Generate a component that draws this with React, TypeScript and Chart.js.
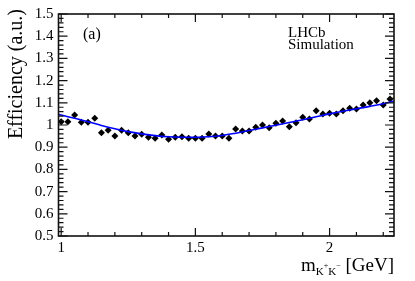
import { useEffect, useRef } from "react";
import { Chart, registerables } from "chart.js";

Chart.register(...registerables);

// bin centres of m(K+K-) in GeV
const MASS = [
  1.0, 1.025, 1.05, 1.075, 1.1, 1.125, 1.15, 1.175, 1.2, 1.225,
  1.25, 1.275, 1.3, 1.325, 1.35, 1.375, 1.4, 1.425, 1.45, 1.475,
  1.5, 1.525, 1.55, 1.575, 1.6, 1.625, 1.65, 1.675, 1.7, 1.725,
  1.75, 1.775, 1.8, 1.825, 1.85, 1.875, 1.9, 1.925, 1.95, 1.975,
  2.0, 2.025, 2.05, 2.075, 2.1, 2.125, 2.15, 2.175, 2.2, 2.225,
];

// simulated efficiency (a.u.)
const EFFICIENCY = [
  1.015, 1.015, 1.045, 1.012, 1.012, 1.03, 0.965, 0.976, 0.95, 0.976,
  0.965, 0.95, 0.958, 0.945, 0.94, 0.955, 0.936, 0.945, 0.947, 0.94,
  0.94, 0.94, 0.959, 0.95, 0.95, 0.94, 0.982, 0.973, 0.973, 0.99,
  1.0, 0.988, 1.008, 1.018, 0.992, 1.01, 1.035, 1.027, 1.064, 1.05,
  1.053, 1.05, 1.064, 1.075, 1.072, 1.09, 1.1, 1.109, 1.09, 1.117,
];

// smooth parametrisation (blue curve)
const FIT_MASS = [
  0.99, 1.0, 1.05, 1.1, 1.15, 1.2, 1.25, 1.3, 1.35, 1.4, 1.45, 1.5, 1.55,
  1.6, 1.65, 1.7, 1.75, 1.8, 1.85, 1.9, 1.95, 2.0, 2.05, 2.1, 2.15, 2.2, 2.24,
];
const FIT_EFF = [
  1.048, 1.045, 1.03, 1.015, 0.998, 0.983, 0.97, 0.96, 0.952, 0.947, 0.945,
  0.945, 0.947, 0.953, 0.963, 0.975, 0.987, 0.999, 1.011, 1.024, 1.037, 1.05,
  1.062, 1.073, 1.084, 1.096, 1.108,
];

const Y_TICKS = [0.5, 0.6, 0.7, 0.8, 0.9, 1.0, 1.1, 1.2, 1.3, 1.4, 1.5];
const X_TICKS = [1, 1.5, 2];

const FONT = '"Liberation Serif", "DejaVu Serif", "Times New Roman", serif';

const framePlugin = {
  id: "rootFrame",
  afterDatasetsDraw(chart: any) {
    const { ctx, chartArea: a, scales } = chart;
    const xs = scales.x;
    const ys = scales.y;
    ctx.save();
    ctx.strokeStyle = "#111";
    ctx.lineWidth = 1.2;
    ctx.beginPath();
    for (let k = 0; k <= 50; k++) {
      const p = ys.getPixelForValue(0.5 + k * 0.02);
      const len = k % 5 === 0 ? 9 : 5;
      ctx.moveTo(a.left, p);
      ctx.lineTo(a.left + len, p);
      ctx.moveTo(a.right, p);
      ctx.lineTo(a.right - len, p);
    }
    for (let k = 0; k <= 12; k++) {
      const p = xs.getPixelForValue(1 + k * 0.1);
      const len = k % 5 === 0 ? 8 : 4;
      ctx.moveTo(p, a.bottom);
      ctx.lineTo(p, a.bottom - len);
      ctx.moveTo(p, a.top);
      ctx.lineTo(p, a.top + len);
    }
    ctx.stroke();
    ctx.lineWidth = 1.6;
    ctx.strokeRect(a.left, a.top, a.right - a.left, a.bottom - a.top);
    ctx.restore();
  },
  afterDraw(chart: any) {
    const { ctx, chartArea: a } = chart;
    ctx.save();
    ctx.fillStyle = "#000";
    ctx.textBaseline = "alphabetic";

    // y-axis title
    ctx.save();
    ctx.translate(22, 9);
    ctx.rotate(-Math.PI / 2);
    ctx.font = `20px ${FONT}`;
    ctx.textAlign = "right";
    ctx.fillText("Efficiency (a.u.)", 0, 0);
    ctx.restore();

    // x-axis title with sub/superscripts
    const parts: [string, number, number][] = [
      ["m", 19, 0],
      ["K", 11, 4],
      ["+", 8, -3],
      ["K", 11, 4],
      ["\u2212", 8, -3],
      [" [GeV]", 19, 0],
    ];
    let total = 0;
    const widths = parts.map(([t, s]) => {
      ctx.font = `${s}px ${FONT}`;
      const w = ctx.measureText(t).width;
      total += w;
      return w;
    });
    let x = a.right - total;
    ctx.textAlign = "left";
    parts.forEach(([t, s, dy], i) => {
      ctx.font = `${s}px ${FONT}`;
      ctx.fillText(t, x, 271 + dy);
      x += widths[i];
    });

    // labels in frame
    ctx.font = `16px ${FONT}`;
    ctx.fillText("(a)", 83, 39);
    ctx.font = `15px ${FONT}`;
    ctx.fillText("LHCb", 288, 37);
    ctx.fillText("Simulation", 288, 49);
    ctx.restore();
  },
};

export default function App() {
  const ref = useRef<HTMLCanvasElement>(null);

  useEffect(() => {
    const canvas = ref.current;
    if (!canvas) return;
    const chart = new Chart(canvas, {
      type: "scatter",
      data: {
        datasets: [
          {
            type: "line",
            label: "fit",
            data: FIT_MASS.map((m, i) => ({ x: m, y: FIT_EFF[i] })),
            borderColor: "#0000ff",
            borderWidth: 1.6,
            pointRadius: 0,
            tension: 0.4,
            fill: false,
          },
          {
            label: "efficiency",
            data: MASS.map((m, i) => ({ x: m, y: EFFICIENCY[i] })),
            backgroundColor: "#000",
            borderColor: "#000",
            pointStyle: "rectRot",
            pointRadius: 3.5,
            borderWidth: 0,
          },
        ],
      },
      options: {
        animation: false,
        responsive: false,
        maintainAspectRatio: false,
        layout: { padding: { top: 14, right: 21, left: 0, bottom: 0 } },
        plugins: {
          legend: { display: false },
          tooltip: { enabled: false },
        },
        scales: {
          x: {
            type: "linear",
            min: 0.99,
            max: 2.24,
            grid: { display: false, drawTicks: false, tickLength: 0 },
            border: { display: false },
            afterBuildTicks: (s: any) => {
              s.ticks = X_TICKS.map((v) => ({ value: v }));
            },
            afterFit: (s: any) => {
              s.height = 45;
            },
            ticks: {
              padding: 3,
              color: "#000",
              font: { family: FONT, size: 15 },
              maxRotation: 0,
              callback: (v: any) => String(Number(Number(v).toFixed(1))),
            },
          },
          y: {
            min: 0.5,
            max: 1.5,
            grid: { display: false, drawTicks: false, tickLength: 0 },
            border: { display: false },
            afterBuildTicks: (s: any) => {
              s.ticks = Y_TICKS.map((v) => ({ value: v }));
            },
            afterFit: (s: any) => {
              s.width = 58.5;
            },
            ticks: {
              padding: 5,
              color: "#000",
              font: { family: FONT, size: 15 },
              callback: (v: any) => String(Number(Number(v).toFixed(1))),
            },
          },
        },
      },
      plugins: [framePlugin],
    });
    return () => chart.destroy();
  }, []);

  return (
    <div style={{ position: "fixed", left: 0, top: 0, width: 415, height: 281, background: "#fff" }}>
      <canvas ref={ref} width={415} height={281} style={{ width: 415, height: 281 }} />
    </div>
  );
}
